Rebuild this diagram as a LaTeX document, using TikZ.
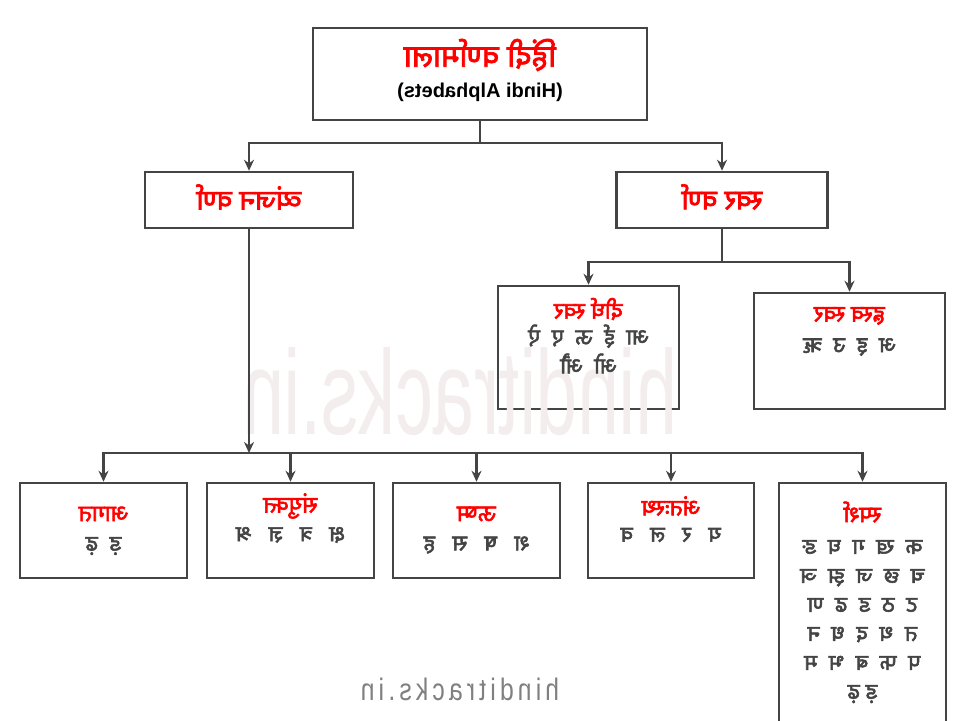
\documentclass[tikz,border=0pt]{standalone}
\usepackage{fontspec}
\usepackage{graphicx}
\setmainfont{Liberation Sans}
\newfontfamily\devanagarifont[Script=Devanagari, AutoFakeBold=2.5]{Noto Sans}
\usetikzlibrary{arrows.meta}
\definecolor{linegray}{HTML}{444444}
\definecolor{hired}{HTML}{FF0000}
\definecolor{markgray}{HTML}{F3EDED}
\tikzset{
  box/.style={rectangle, draw=linegray, line width=2.5pt, fill=white, inner sep=0pt},
  conn/.style={draw=linegray, line width=2.5pt},
  arrow/.style={conn, -{Stealth[length=11pt,width=10pt]}},
  hd/.style={text=hired, font=\devanagarifont\bfseries\fontsize{23}{26}\selectfont},
  ltr/.style={text=linegray, font=\devanagarifont\bfseries\fontsize{22}{29}\selectfont, align=center},
}
\newcommand{\mir}[1]{\reflectbox{#1}}
\begin{document}
\begin{tikzpicture}[x=1pt,y=-1pt]
\useasboundingbox (0,0) rectangle (960,720);
\fill[white] (0,0) rectangle (960,720);
% boxes
\node[box, minimum width=334pt, minimum height=92pt] (title) at (480,74) {};
\node[box, minimum width=208pt, minimum height=56pt] (vyan) at (249,200) {};
\node[box, minimum width=211pt, minimum height=56pt] (swar) at (722,200) {};
\node[box, minimum width=181pt, minimum height=123pt] (dirgh) at (588.5,347.5) {};
\node[box, minimum width=191pt, minimum height=116pt] (hrasva) at (849.5,351) {};
\node[box, minimum width=167pt, minimum height=95pt] (agat) at (103.5,530.5) {};
\node[box, minimum width=167pt, minimum height=95pt] (sanyukt) at (290.5,530.5) {};
\node[box, minimum width=167pt, minimum height=95pt] (ushm) at (476.5,530.5) {};
\node[box, minimum width=166pt, minimum height=95pt] (antah) at (671,530.5) {};
\node[box, minimum width=167pt, minimum height=260pt] (spars) at (862.5,613) {};
% watermarks
\node[text=markgray, font=\fontsize{120}{120}\selectfont, xscale=0.62] (mark) at (460,392) {\mir{hinditracks.in}};
\node[text=gray, font=\fontsize{31}{32}\selectfont, xscale=0.8] (site) at (460,689) {\mir{h\,i\,n\,d\,i\,t\,r\,a\,c\,k\,s\,.\,i\,n}};
% texts
\node[hd, font=\devanagarifont\bfseries\fontsize{31}{34}\selectfont] (titlehi) at (480,55) {\mir{हिंदी वर्णमाला}};
\node[font=\bfseries\fontsize{20}{22}\selectfont] (titleen) at (480,92) {\mir{(Hindi Alphabets)}};
\node[hd, font=\devanagarifont\bfseries\fontsize{28}{30}\selectfont] (vyantx) at (249,197) {\mir{व्यंजन वर्ण}};
\node[hd, font=\devanagarifont\bfseries\fontsize{28}{30}\selectfont] (swartx) at (722,197) {\mir{स्वर वर्ण}};
\node[hd] (dirghtx) at (588.5,309) {\mir{दीर्घ स्वर}};
\node[ltr] (dirghl) at (588.5,353) {\mir{\begin{tabular}{@{}c@{}}आ\ \ ई\ \ ऊ\ \ ए\ \ ऐ\\ओ\ \ औ\end{tabular}}};
\node[hd] (hrasvatx) at (849.5,316) {\mir{ह्रस्व स्वर}};
\node[ltr] (hrasval) at (849.5,347) {\mir{अ\ \ इ\ \ उ\ \ ऋ}};
\node[hd] (agattx) at (103.5,514) {\mir{आगत}};
\node[ltr] (agatl) at (103.5,546) {\mir{ड़\ \ ढ़}};
\node[hd] (sanyukttx) at (290.5,506) {\mir{संयुक्त}};
\node[ltr] (sanyuktl) at (290.5,535) {\mir{क्ष\ \ \ त्र\ \ \ ज्ञ\ \ \ श्र}};
\node[hd] (ushmtx) at (476.5,514) {\mir{ऊष्म}};
\node[ltr] (ushml) at (476.5,545) {\mir{श\ \ \ ष\ \ \ स\ \ \ ह}};
\node[hd] (antahtx) at (671,506) {\mir{अंतःस्थ}};
\node[ltr] (antahl) at (671,535) {\mir{य\ \ \ र\ \ \ ल\ \ \ व}};
\node[hd] (sparstx) at (862.5,512) {\mir{स्पर्श}};
\node[ltr, anchor=north] (sparsl) at (862.5,530) {\mir{\begin{tabular}{@{}c@{}}क\ \ ख\ \ ग\ \ घ\ \ ङ\\च\ \ छ\ \ ज\ \ झ\ \ ञ\\ट\ \ ठ\ \ ड\ \ ढ\ \ ण\\त\ \ थ\ \ द\ \ ध\ \ न\\प\ \ फ\ \ ब\ \ भ\ \ म\\ड़ ढ़\end{tabular}}};
% connectors
\coordinate (t1) at (480,143);
\coordinate (s1) at (722,262);
\coordinate (v1) at (249,453);
\draw[conn] (title.south) -- (t1);
\draw[arrow] (t1) -| (vyan.north);
\draw[arrow] (t1) -| (swar.north);
\draw[conn] (swar.south) -- (s1);
\draw[arrow] (s1) -| (dirgh.north);
\draw[arrow] (s1) -| (hrasva.north);
\draw[arrow] (vyan.south) -- (v1);
\foreach \b in {agat,sanyukt,ushm,antah,spars}
  \draw[arrow] (v1) -| (\b.north);
\end{tikzpicture}
\end{document}
